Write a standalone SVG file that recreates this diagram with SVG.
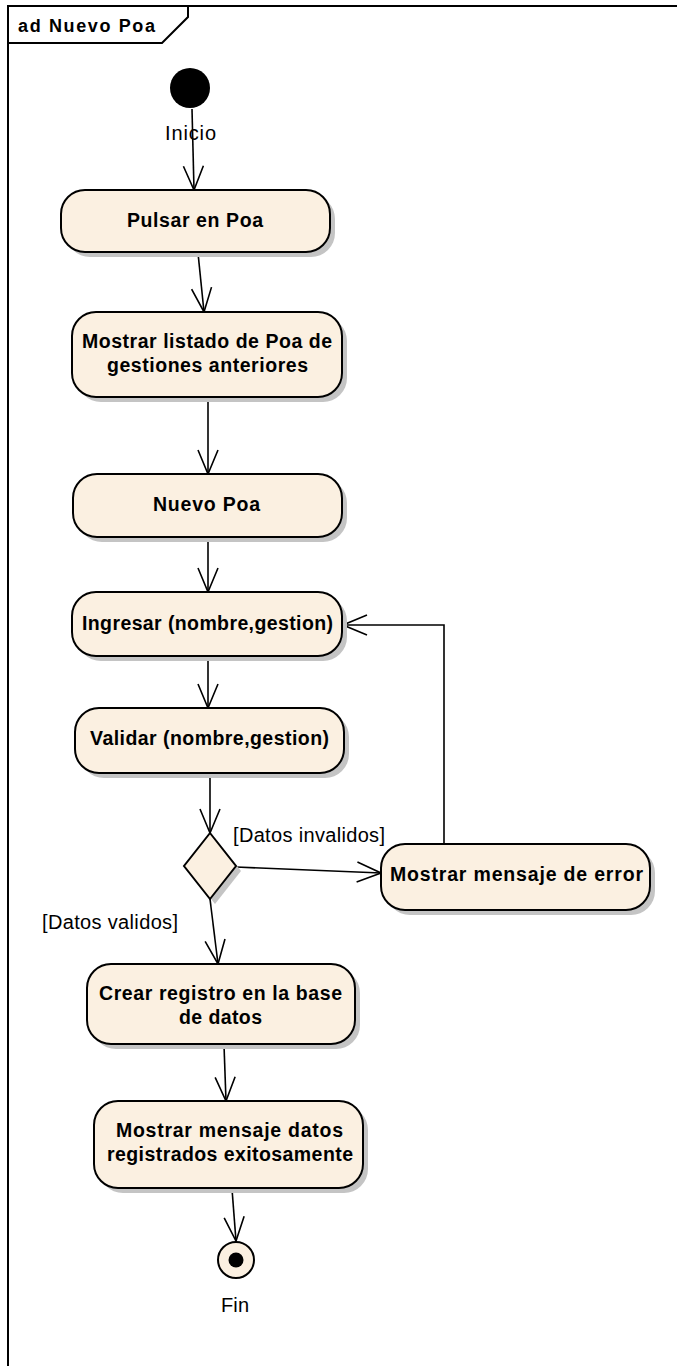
<svg xmlns="http://www.w3.org/2000/svg" width="677" height="1366" viewBox="0 0 677 1366">
  <style>
    .frame { fill: none; stroke: #000; stroke-width: 2; }
    .act { fill: #FBF0E1; stroke: #000; stroke-width: 2; }
    .shadow { fill: #C4C4C4; stroke: none; }
    .edge { fill: none; stroke: #000; stroke-width: 1.6; marker-end: url(#open); }
    .lbl { font-family: "Liberation Sans", Arial, sans-serif; font-weight: bold; font-size: 19.5px; fill: #000; }
    .title { font-family: "Liberation Sans", Arial, sans-serif; font-weight: bold; font-size: 18px; fill: #000; }
    .note { font-family: "Liberation Sans", Arial, sans-serif; font-size: 20px; fill: #000; }
  </style>
  <defs>
    <marker id="open" viewBox="0 0 26 22" refX="25" refY="11" markerWidth="26" markerHeight="22" markerUnits="userSpaceOnUse" orient="auto">
      <path d="M1,1 L25,11 L1,21" fill="none" stroke="#000" stroke-width="1.6"/>
    </marker>
  </defs>

  <rect width="677" height="1366" fill="#fff"/>

  <!-- diagram frame with name tab -->
  <g id="frame">
    <path class="frame" d="M8,1366 L8,6 L677,6"/>
    <path class="frame" d="M8,43 L162,43 L188,17 L188,6"/>
    <text class="title" x="18" y="32" textLength="137" lengthAdjust="spacing">ad Nuevo Poa</text>
  </g>

  <!-- connectors -->
  <g id="connectors">
    <path class="edge" d="M192,109 L194,190"/>
    <path class="edge" d="M198,253 L204,312"/>
    <path class="edge" d="M208,398 L208,474"/>
    <path class="edge" d="M208,538 L208,592"/>
    <path class="edge" d="M208,657 L208,708"/>
    <path class="edge" d="M210,774 L210,833"/>
    <path class="edge" d="M236,867 L381,873"/>
    <path class="edge" d="M444,844 L444,625 L343,625"/>
    <path class="edge" d="M210,899 L218,964"/>
    <path class="edge" d="M224,1045 L226,1101"/>
    <path class="edge" d="M232,1189 L236,1241"/>
    <text class="note" x="233" y="842" textLength="152" lengthAdjust="spacing">[Datos invalidos]</text>
    <text class="note" x="42" y="929" textLength="136" lengthAdjust="spacing">[Datos validos]</text>
  </g>

  <g id="inicio">
    <circle cx="190" cy="88" r="20" fill="#000"/>
    <text class="note" x="165" y="140" textLength="51" lengthAdjust="spacing">Inicio</text>
  </g>

  <g id="pulsar-poa">
    <rect class="shadow" x="66" y="195" width="269" height="62" rx="24"/>
    <rect class="act" x="61" y="190" width="269" height="62" rx="24"/>
    <text class="lbl" x="127" y="227" textLength="136" lengthAdjust="spacing">Pulsar en Poa</text>
  </g>

  <g id="mostrar-listado">
    <rect class="shadow" x="77" y="317" width="270" height="85" rx="24"/>
    <rect class="act" x="72" y="312" width="270" height="85" rx="24"/>
    <text class="lbl" x="82" y="348" textLength="250" lengthAdjust="spacing">Mostrar listado de Poa de</text>
    <text class="lbl" x="107" y="372" textLength="201" lengthAdjust="spacing">gestiones anteriores</text>
  </g>

  <g id="nuevo-poa">
    <rect class="shadow" x="78" y="479" width="269" height="63" rx="24"/>
    <rect class="act" x="73" y="474" width="269" height="63" rx="24"/>
    <text class="lbl" x="153" y="511" textLength="107" lengthAdjust="spacing">Nuevo Poa</text>
  </g>

  <g id="ingresar">
    <rect class="shadow" x="77" y="597" width="270" height="64" rx="24"/>
    <rect class="act" x="72" y="592" width="270" height="64" rx="24"/>
    <text class="lbl" x="82" y="630" textLength="251" lengthAdjust="spacing">Ingresar (nombre,gestion)</text>
  </g>

  <g id="validar">
    <rect class="shadow" x="80" y="713" width="269" height="65" rx="24"/>
    <rect class="act" x="75" y="708" width="269" height="65" rx="24"/>
    <text class="lbl" x="90" y="745" textLength="239" lengthAdjust="spacing">Validar (nombre,gestion)</text>
  </g>

  <g id="decision">
    <path class="shadow" d="M215,838 L241,871 L215,904 L189,871 Z"/>
    <path class="act" d="M210,833 L236,866 L210,899 L184,866 Z"/>
  </g>

  <g id="mostrar-error">
    <rect class="shadow" x="386" y="849" width="269" height="66" rx="24"/>
    <rect class="act" x="381" y="844" width="269" height="66" rx="24"/>
    <text class="lbl" x="390" y="881" textLength="253" lengthAdjust="spacing">Mostrar mensaje de error</text>
  </g>

  <g id="crear-registro">
    <rect class="shadow" x="92" y="969" width="268" height="80" rx="24"/>
    <rect class="act" x="87" y="964" width="268" height="80" rx="24"/>
    <text class="lbl" x="99" y="1000" textLength="243" lengthAdjust="spacing">Crear registro en la base</text>
    <text class="lbl" x="179" y="1024" textLength="83" lengthAdjust="spacing">de datos</text>
  </g>

  <g id="mostrar-registrados">
    <rect class="shadow" x="99" y="1106" width="269" height="87" rx="24"/>
    <rect class="act" x="94" y="1101" width="269" height="87" rx="24"/>
    <text class="lbl" x="116" y="1137" textLength="227" lengthAdjust="spacing">Mostrar mensaje datos</text>
    <text class="lbl" x="107" y="1161" textLength="246" lengthAdjust="spacing">registrados exitosamente</text>
  </g>

  <g id="fin">
    <circle class="act" cx="236" cy="1260" r="18"/>
    <circle cx="236" cy="1260" r="7.5" fill="#000"/>
    <text class="note" x="221" y="1312" textLength="28" lengthAdjust="spacing">Fin</text>
  </g>
</svg>
